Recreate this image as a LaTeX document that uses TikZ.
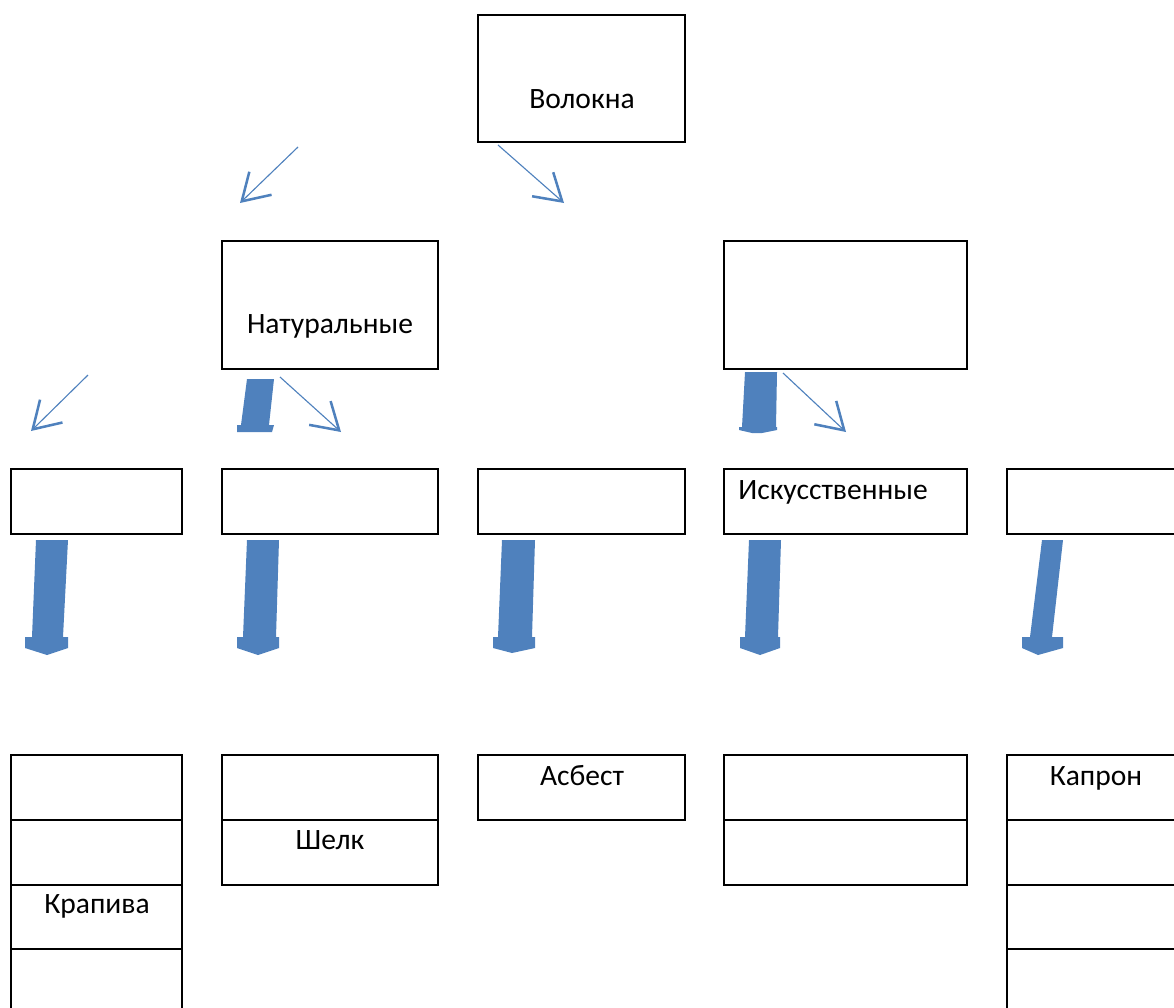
\documentclass[tikz,border=0pt]{standalone}
\usepackage{fontspec}
\setmainfont{Carlito}
\usetikzlibrary{arrows.meta,fit}
\definecolor{arrblue}{RGB}{79,129,189}
\begin{document}
\begin{tikzpicture}[x=0.025cm,y=-0.025cm,
  box/.style={draw=black,line width=1.6pt,inner sep=0pt},
  lbl/.style={font=\fontsize{21}{25}\selectfont,inner sep=0pt,anchor=base},
  thinarrow/.style={draw=arrblue,line width=0.8pt,-{Straight Barb[length=6.5mm,width=8mm,line width=1.8pt]}},
  blockarrow/.style={fill=arrblue,draw=none}]
\useasboundingbox (0,0) rectangle (1174,1007);
\clip (0,0) rectangle (1174,1007);
% top level
\node[box,fit={(478,15)(685,142)}] (vol) {};
\node[lbl] (tvol) at (582,108) {Волокна};
% second level
\node[box,fit={(222,241)(438,369)}] (nat) {};
\node[lbl] (tnat) at (330,333) {Натуральные};
\node[box,fit={(724,241)(967,369)}] (art) {};
% third row
\node[box,fit={(11,469)(182,534)}] (r1) {};
\node[box,fit={(222,469)(438,534)}] (r2) {};
\node[box,fit={(478,469)(685,534)}] (r3) {};
\node[box,fit={(724,469)(967,534)}] (r4) {};
\node[lbl] (tiskus) at (833,499) {Искусственные};
\node[box,fit={(1007,469)(1190,534)}] (r5) {};
% bottom column 1
\node[box,fit={(11,755)(182,820)}] (a1) {};
\node[box,fit={(11,820)(182,885)}] (a2) {};
\node[box,fit={(11,885)(182,949)}] (a3) {};
\node[box,fit={(11,949)(182,1020)}] (a4) {};
\node[lbl] (tkrap) at (97,913) {Крапива};
% column 2
\node[box,fit={(222,755)(438,820)}] (b1) {};
\node[box,fit={(222,820)(438,885)}] (b2) {};
\node[lbl] (tshelk) at (330,849) {Шелк};
% column 3
\node[box,fit={(478,755)(685,820)}] (c1) {};
\node[lbl] (tasb) at (582,785) {Асбест};
% column 4
\node[box,fit={(724,755)(967,820)}] (d1) {};
\node[box,fit={(724,820)(967,885)}] (d2) {};
% column 5
\node[box,fit={(1007,755)(1190,820)}] (e1) {};
\node[box,fit={(1007,820)(1190,885)}] (e2) {};
\node[box,fit={(1007,885)(1190,949)}] (e3) {};
\node[box,fit={(1007,949)(1190,1020)}] (e4) {};
\node[lbl] (tkapr) at (1096,785) {Капрон};
% thin arrows
\coordinate (s1) at (298,147); \coordinate (t1) at (240,203);
\coordinate (s2) at (498,145); \coordinate (t2) at (564,203);
\coordinate (s3) at (88,375);  \coordinate (t3) at (31,431);
\coordinate (s4) at (280,377); \coordinate (t4) at (341,432);
\coordinate (s5) at (783,373); \coordinate (t5) at (846,432);
\foreach \i in {1,...,5} \draw[thinarrow] (s\i) -- (t\i);
% small block arrows
\fill[blockarrow] (247,379) -- (274,379) -- (269,425) -- (274,425) -- (272,432)
  -- (237,432) -- (237,425) -- (241,425) -- cycle;
\fill[blockarrow] (745,372) -- (777,372) -- (776,427) -- (777,427) -- (777,430)
  -- (762,433) -- (752,433) -- (739,430) -- (739,427) -- (742,427) -- cycle;
% big block arrows
\fill[blockarrow] (36,540) -- (68,540) -- (63,637) -- (68,637) -- (68,648)
  -- (47,655) -- (25,648) -- (25,637) -- (32,637) -- cycle;
\fill[blockarrow] (247,540) -- (279,540) -- (276,637) -- (279,637) -- (279,648)
  -- (258,655) -- (237,648) -- (237,637) -- (243,637) -- cycle;
\fill[blockarrow] (502,540) -- (535,540) -- (532,637) -- (535,637) -- (535,648)
  -- (512,653) -- (493,648) -- (493,637) -- (498,637) -- cycle;
\fill[blockarrow] (749,540) -- (781,540) -- (778,637) -- (780,637) -- (780,648)
  -- (760,655) -- (740,648) -- (740,637) -- (745,637) -- cycle;
\fill[blockarrow] (1042,540) -- (1063,540) -- (1052,637) -- (1063,637) -- (1063,648)
  -- (1038,655) -- (1022,648) -- (1022,637) -- (1030,637) -- cycle;
\end{tikzpicture}
\end{document}
